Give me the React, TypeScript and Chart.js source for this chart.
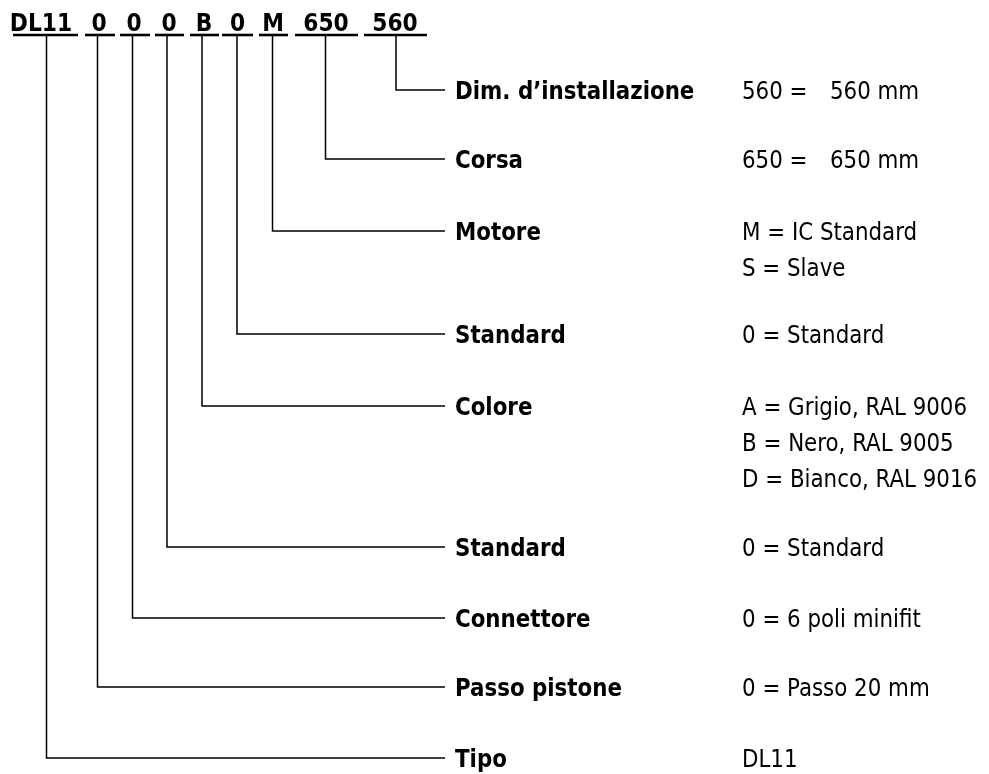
import React, { useEffect, useRef } from "react";
import { Chart, registerables } from "chart.js";

Chart.register(...registerables);

// Ordering code segments (left to right)
const codeParts = ["DL11", "0", "0", "0", "B", "0", "M", "650", "560"];
// Row labels (top to bottom)
const rowLabels = [
  "Dim. d\u2019installazione",
  "Corsa",
  "Motore",
  "Standard",
  "Colore",
  "Standard",
  "Connettore",
  "Passo pistone",
  "Tipo",
];
// Row value texts (top to bottom), multiple lines per row ("\t" = tab stop)
const rowValues: string[][] = [
  ["560 =\t560 mm"],
  ["650 =\t650 mm"],
  ["M = IC Standard", "S = Slave"],
  ["0 = Standard"],
  ["A = Grigio, RAL 9006", "B = Nero, RAL 9005", "D = Bianco, RAL 9016"],
  ["0 = Standard"],
  ["0 = 6 poli minifit"],
  ["0 = Passo 20 mm"],
  ["DL11"],
];
// Which code segment each row belongs to (top to bottom)
const rowCodeIndex = [8, 7, 6, 5, 4, 3, 2, 1, 0];

// ---- layout (diagram coordinate system, 989 x 774 units) ----
const W = 989;
const H = 774;
const underlineY = 35;
const underlineSpans: [number, number][] = [
  [13, 78], [85, 115], [120, 150], [155, 184], [190, 219],
  [222, 253], [259, 288], [295, 358], [364, 427],
];
const stemX = [46.5, 97.5, 132.5, 167, 202, 237, 272.5, 325.5, 396];
const codeTextX = [41, 99, 134, 169, 204, 237.5, 273, 326, 395];
const rowY = [90, 159, 231, 334, 406, 547, 618, 687, 758];
const leaderEndX = 445;
const labelX = 455;
const valueX = 742;
const valueTabX = 830;
const valueLineGap = 36;
const textScaleX = 0.95;

const FAMILY = "'Liberation Sans Narrow', 'DejaVu Sans Condensed', 'Open Sans', sans-serif";
const BOLD_FONT = `bold 25px ${FAMILY}`;
const REG_FONT = `25px ${FAMILY}`;
const CODE_FONT = `bold 25.5px ${FAMILY}`;

function drawText(ctx: CanvasRenderingContext2D, text: string, x: number, y: number) {
  ctx.save();
  ctx.translate(x, y);
  ctx.scale(textScaleX, 1);
  ctx.fillText(text, 0, 0);
  ctx.restore();
}

export default function App() {
  const canvasRef = useRef<HTMLCanvasElement | null>(null);

  useEffect(() => {
    const canvas = canvasRef.current;
    if (!canvas) return;

    const datasets: any[] = [];
    underlineSpans.forEach(([a, b]) => {
      datasets.push({
        data: [{ x: a, y: underlineY }, { x: b, y: underlineY }],
        borderColor: "#000",
        borderWidth: 2.6,
        pointRadius: 0,
        showLine: true,
        fill: false,
        borderCapStyle: "butt",
      });
    });
    rowLabels.forEach((_, r) => {
      const ci = rowCodeIndex[r];
      datasets.push({
        data: [
          { x: stemX[ci], y: underlineY },
          { x: stemX[ci], y: rowY[r] },
          { x: leaderEndX, y: rowY[r] },
        ],
        borderColor: "#000",
        borderWidth: 1.5,
        pointRadius: 0,
        showLine: true,
        fill: false,
        tension: 0,
        borderJoinStyle: "miter",
      });
    });

    const textPlugin = {
      id: "codeText",
      afterDatasetsDraw(chart: any) {
        const { ctx, scales } = chart;
        const xs = scales.x;
        const ys = scales.y;
        ctx.save();
        ctx.fillStyle = "#000";
        ctx.textBaseline = "alphabetic";
        ctx.font = CODE_FONT;
        ctx.textAlign = "center";
        codeParts.forEach((p, i) => {
          drawText(ctx, p, xs.getPixelForValue(codeTextX[i]), ys.getPixelForValue(31));
        });
        ctx.textAlign = "left";
        rowLabels.forEach((lab, r) => {
          ctx.font = BOLD_FONT;
          drawText(ctx, lab, xs.getPixelForValue(labelX), ys.getPixelForValue(rowY[r] + 9));
          ctx.font = REG_FONT;
          rowValues[r].forEach((line, k) => {
            const yb = ys.getPixelForValue(rowY[r] + 9 + k * valueLineGap);
            const parts = line.split("\t");
            drawText(ctx, parts[0], xs.getPixelForValue(valueX), yb);
            if (parts[1]) drawText(ctx, parts[1], xs.getPixelForValue(valueTabX), yb);
          });
        });
        ctx.restore();
      },
    };

    const chart = new Chart(canvas, {
      type: "scatter",
      data: { datasets },
      options: {
        animation: false,
        responsive: false,
        maintainAspectRatio: false,
        layout: { padding: 0 },
        plugins: { legend: { display: false }, tooltip: { enabled: false } },
        scales: {
          x: { type: "linear", min: 0, max: W, display: false },
          y: { type: "linear", min: 0, max: H, reverse: true, display: false },
        },
      },
      plugins: [textPlugin],
    });

    return () => chart.destroy();
  }, []);

  return (
    <div style={{ position: "absolute", left: 0, top: 0, width: W, height: H, background: "#fff" }}>
      <canvas ref={canvasRef} width={W} height={H} style={{ width: W, height: H, display: "block" }} />
    </div>
  );
}
